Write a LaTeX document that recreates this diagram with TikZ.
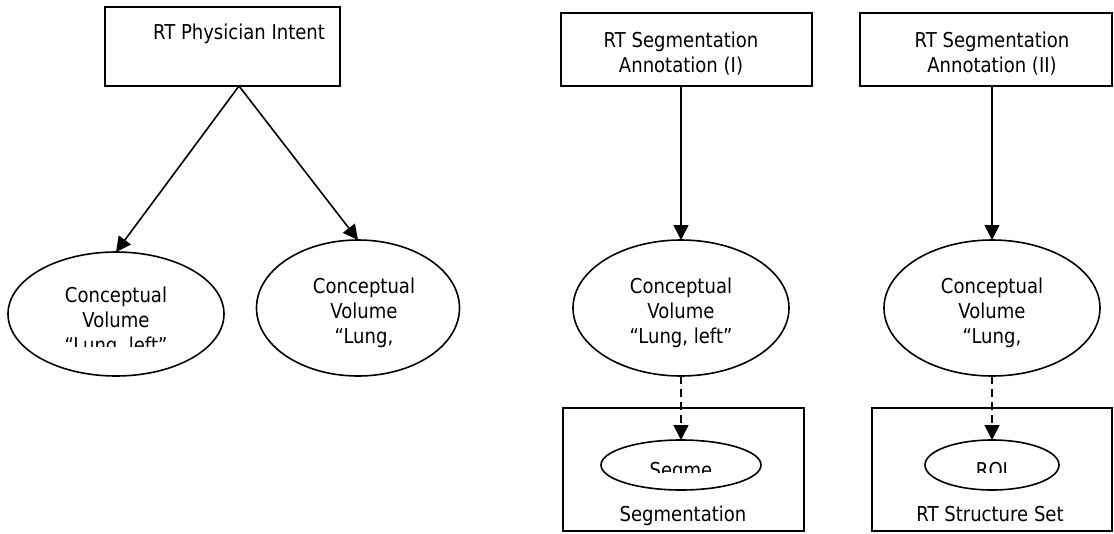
\documentclass[tikz,border=0pt]{standalone}
\usepackage{fontspec}
\setmainfont{DejaVu Sans}[FakeStretch=0.88]
\usetikzlibrary{arrows.meta,shapes.geometric}
\newcommand\lblfont{\fontsize{20.5}{25}\selectfont}

\begin{document}
\begin{tikzpicture}[x=1pt,y=-1pt,line width=1.6pt,
  every node/.style={inner sep=0pt,outer sep=0pt},
  rectbox/.style={draw,rectangle,anchor=north west},
  volume/.style={draw,ellipse},
  lbl/.style={anchor=base,font=\lblfont},
  link/.style={-{Triangle[length=15pt,width=15pt]}},
  reflink/.style={link,dash pattern=on 8pt off 5pt}]

\useasboundingbox (0,0) rectangle (1114,533);

% top-level objects
\node[rectbox,minimum width=235pt,minimum height=79pt] (boxA) at (105,7) {};
\node[lbl] (txtA) at (239,39) {RT Physician Intent};

\node[rectbox,minimum width=251pt,minimum height=73pt] (boxB) at (561,13) {};
\node[lbl] (txtBa) at (681,47) {RT Segmentation};
\node[lbl] (txtBb) at (681,72) {Annotation (I)};

\node[rectbox,minimum width=252pt,minimum height=73pt] (boxC) at (860,13) {};
\node[lbl] (txtCa) at (992,47) {RT Segmentation};
\node[lbl] (txtCb) at (992,72) {Annotation (II)};

% conceptual volumes
\node[volume,minimum width=216pt,minimum height=124pt] (volL1) at (116,314) {};
\node[lbl] (l1a) at (116,302) {Conceptual};
\node[lbl] (l1b) at (116,327) {Volume};
\begin{scope}
  \clip (10,330) rectangle (222,346);
  \node[lbl] (l1c) at (116,352) {“Lung, left”};
\end{scope}

\node[volume,minimum width=203pt,minimum height=136pt] (volL2) at (358,308) {};
\node[lbl] (l2a) at (364,293) {Conceptual};
\node[lbl] (l2b) at (364,318) {Volume};
\begin{scope}
  \clip (260,325) rectangle (458,347.5);
  \node[lbl] (l2c) at (364,343) {“Lung,};
\end{scope}

\node[volume,minimum width=216pt,minimum height=136pt] (volM1) at (681,308) {};
\node[lbl] (m1a) at (681,293) {Conceptual};
\node[lbl] (m1b) at (681,318) {Volume};
\node[lbl] (m1c) at (681,343) {“Lung, left”};

\node[volume,minimum width=216pt,minimum height=136pt] (volM2) at (992,308) {};
\node[lbl] (m2a) at (992,293) {Conceptual};
\node[lbl] (m2b) at (992,318) {Volume};
\begin{scope}
  \clip (886,325) rectangle (1098,347.5);
  \node[lbl] (m2c) at (992,343) {“Lung,};
\end{scope}

% instance containers
\node[rectbox,minimum width=241pt,minimum height=123pt] (boxD) at (563,408) {};
\node[volume,minimum width=160pt,minimum height=50pt] (segInner) at (681,465) {};
\begin{scope}
  \clip (610,450) rectangle (750,472.5);
  \node[lbl] (segTxt) at (681,477) {Segme};
\end{scope}
\node[lbl] (txtD) at (683,521) {Segmentation};

\node[rectbox,minimum width=240pt,minimum height=123pt] (boxE) at (872,408) {};
\node[volume,minimum width=134pt,minimum height=50pt] (roiInner) at (992,465) {};
\begin{scope}
  \clip (930,450) rectangle (1054,472.5);
  \node[lbl] (roiTxt) at (992,477) {ROI};
\end{scope}
\node[lbl] (txtE) at (990,521) {RT Structure Set};

% connectors
\coordinate (apexA) at (boxA.south -| txtA.base);
\draw[link] (apexA) -- (volL1.north);
\draw[link] (apexA) -- (volL2.north);
\draw[link] (boxB.south -| volM1.north) -- (volM1.north);
\draw[link] (boxC.south -| volM2.north) -- (volM2.north);
\draw[reflink] (volM1.south) -- (segInner.north);
\draw[reflink] (volM2.south) -- (roiInner.north);
\end{tikzpicture}
\end{document}
